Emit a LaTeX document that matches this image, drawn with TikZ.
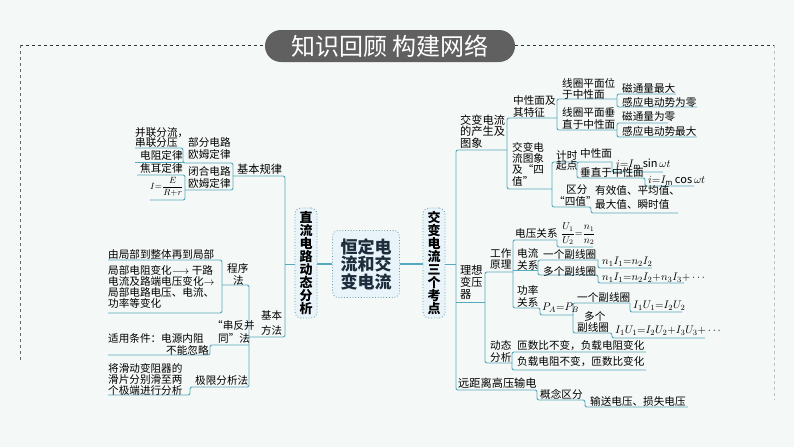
\documentclass[tikz,border=0pt]{standalone}
\usepackage{fontspec}
\usepackage{amsmath}
\setmainfont{Noto Sans CJK SC}
\usetikzlibrary{calc}
\definecolor{bg}{RGB}{244,248,246}
\definecolor{lc}{RGB}{86,170,192}
\definecolor{pill}{RGB}{96,96,96}
\definecolor{cbox}{RGB}{232,243,250}
\tikzset{
 ln/.style={draw=lc,line width=0.9pt,rounded corners=2pt},
 t/.style={anchor=west,inner sep=0pt,font=\fontsize{10.6}{11}\selectfont},
 tb/.style={anchor=west,inner sep=0pt,font=\fontsize{11.2}{12}\selectfont},
 tm/.style={anchor=west,inner sep=0pt,font=\fontsize{10.5}{11}\selectfont},
 fm/.style={anchor=west,inner sep=0pt,font=\fontsize{11}{11}\selectfont},
}
\begin{document}
\begin{tikzpicture}[x=1pt,y=-1pt]
\fill[bg] (0,0) rectangle (794,447);
\useasboundingbox (0,0) rectangle (794,447);
% frame
\draw[black!80,dashed,line width=0.7pt] (20,45)--(265,45) (515,45)--(774,45);
\draw[black!60,dashed,line width=0.7pt] (20,45)--(20,360);
\draw[black!25,dashed,line width=0.7pt] (774,45)--(774,400);
\node[fill=pill,rounded corners=16pt,minimum width=250pt,minimum height=32pt,text=white,font=\fontsize{24}{26}\selectfont,inner sep=0pt] (title) at (390,46) {知识回顾 构建网络};
% centre
\node[draw=lc!60!gray,dotted,line width=0.8pt,fill=cbox,rounded corners=6pt,minimum width=67pt,minimum height=67pt,align=center,inner sep=0pt,font=\fontsize{17}{17.5}\selectfont\bfseries,text={rgb,255:red,30;green,45;blue,60}] (c) at (366,264) {恒定电\\流和交\\变电流};
\node[draw=lc!60!gray,dotted,line width=0.8pt,fill=cbox,rounded corners=6pt,minimum width=22pt,minimum height=110pt,align=center,inner sep=0pt,font=\fontsize{13}{13}\selectfont\bfseries] (lv) at (306,263) {直\\流\\电\\路\\动\\态\\分\\析};
\node[draw=lc!60!gray,dotted,line width=0.8pt,fill=cbox,rounded corners=6pt,minimum width=22pt,minimum height=110pt,align=center,inner sep=0pt,font=\fontsize{13}{13}\selectfont\bfseries] (rv) at (434,263) {交\\变\\电\\流\\三\\个\\考\\点};
\draw[ln,line width=1.4pt] (c.west|-0,264)--(lv.east|-0,264);
\draw[ln,line width=1.4pt] (c.east|-0,264)--(rv.west|-0,264) ;
\draw[ln] (lv.west|-0,264)--(285,264);
\draw[ln] (rv.east|-0,264)--(456,264);
% ===== left
\draw[ln] (135,148)--(183,148)--(183,163)--(233,163)--(233,190)--(185,190);
\draw[ln] (135,162)--(183,162);
\draw[ln] (137,175)--(185,175)--(185,200)--(150,200);
\draw[ln] (233,176)--(285,176)--(285,337)--(249,337);
\node[t] (a1) at (135,133) {并联分流，};
\node[t] (a2) at (135,143) {串联分压};
\node[t] (a3) at (140,155) {电阻定律};
\node[t] (a4) at (140,168) {焦耳定律};
\node[t,font=\fontsize{9.5}{10}\selectfont] (a5) at (150,187) {$I{=}\dfrac{E}{R{+}r}$};
\node[t] (a6) at (188,142) {部分电路};
\node[t] (a7) at (188,154) {欧姆定律};
\node[t] (a8) at (188,171) {闭合电路};
\node[t] (a9) at (188,183) {欧姆定律};
\node[tb] (jbgl) at (237,169) {基本规律};
\node[tm] (jbff1) at (261,316) {基本};
\node[tm] (jbff2) at (261,330) {方法};
\draw[ln] (108,260)--(222,260)--(222,313)--(108,313);
\draw[ln] (222,285)--(249,285)--(249,387)--(190,387)--(190,395)--(108,395);
\draw[ln] (249,345)--(210,345)--(210,355)--(108,355);
\node[t] (b1) at (108,254) {由局部到整体再到局部};
\node[t] (b2) at (108,270) {局部电阻变化$\longrightarrow$ 干路};
\node[t] (b3) at (108,281) {电流及路端电压变化$\rightarrow$};
\node[t] (b4) at (108,292) {局部电路电压、电流、};
\node[t] (b5) at (108,303) {功率等变化};
\node[t] (b6) at (227,268) {程序};
\node[t] (b7) at (233,280) {法};
\node[t] (b8) at (108,338) {适用条件：电源内阻};
\node[t] (b9) at (166,350) {不能忽略};
\node[t] (b10) at (212,325) {“串反并};
\node[t] (b11) at (218,338) {同”法};
\node[t] (b12) at (108,368) {将滑动变阻器的};
\node[t] (b13) at (108,379) {滑片分别滑至两};
\node[t] (b14) at (108,390) {个极端进行分析};
\node[t] (b15) at (195,380) {极限分析法};
% ===== right
\draw[ln] (507,150)--(456,150)--(456,390)--(537,390)--(537,400)--(585,400)--(585,407)--(688,407);
\draw[ln] (456,302)--(485,302);
\draw[ln] (557,118)--(507,118)--(507,189)--(552,189);
\draw[ln] (617,99)--(557,99)--(557,130)--(617,130);
\draw[ln] (676,94)--(617,94)--(617,107)--(697,107);
\draw[ln] (668,123)--(617,123)--(617,137)--(697,137);
\node[tb] (c1) at (460,120) {交变电流};
\node[tb] (c2) at (460,131.5) {的产生及};
\node[tb] (c3) at (460,143) {图象};
\node[t] (c4) at (513,100) {中性面及};
\node[t] (c5) at (513,112) {其特征};
\node[t] (c6) at (562,83) {线圈平面位};
\node[t] (c7) at (562,94) {于中性面};
\node[t] (c8) at (622,88) {磁通量最大};
\node[t] (c9) at (622,102) {感应电动势为零};
\node[t] (c10) at (562,112) {线圈平面垂};
\node[t] (c11) at (562,124) {直于中性面};
\node[t] (c12) at (622,117) {磁通量为零};
\node[t] (c13) at (622,131) {感应电动势最大};
\node[t] (d1) at (512,147) {交变电};
\node[t] (d2) at (512,158) {流图象};
\node[t] (d3) at (512,169) {及“四};
\node[t] (d4) at (512,181) {值”};
\draw[ln] (577,162)--(552,162)--(552,207)--(591,207)--(591,213)--(678,213);
\draw[ln] (612,162)--(577,162)--(577,178)--(645,178)--(645,186)--(694,186);
\draw[ln] (612,162)--(612,172)--(663,172);
\node[t] (d5) at (556,155) {计时};
\node[t] (d6) at (556,166) {起点};
\node[t] (d7) at (580,153) {中性面};
\node[fm] (d8) at (616,164) {$i{=}I_{\mathrm m}\sin\omega t$};
\node[t] (d9) at (580,172) {垂直于中性面};
\node[fm] (d10) at (648,180.5) {$i{=}I_{\mathrm m}\cos\omega t$};
\node[t] (d11) at (566,190) {区分};
\node[t] (d12) at (554,201) {“四值”};
\node[t] (d13) at (595,190) {有效值、平均值、};
\node[t] (d14) at (595,204) {最大值、瞬时值};
% transformer
\node[tb] (e1) at (460,270) {理想};
\node[tb] (e2) at (460,282) {变压};
\node[tb] (e3) at (460,294) {器};
\draw[ln] (513,272)--(485,272)--(485,363)--(512,363);
\draw[ln] (557,240)--(513,240)--(513,308)--(540,308)--(540,315)--(573,315);
\draw[ln] (557,240)--(557,247)--(593,247);
\draw[ln] (513,270)--(538,270);
\draw[ln] (598,260)--(538,260)--(538,275)--(598,275)--(598,283)--(684,283);
\draw[ln] (598,260)--(598,268)--(652,268);
\draw[ln] (630,303)--(573,303)--(573,333)--(612,333)--(612,338)--(705,338);
\draw[ln] (630,303)--(630,312)--(682,312);
\draw[ln] (646,352)--(512,352)--(512,370)--(646,370);
\node[t] (f1) at (490,253) {工作};
\node[t] (f2) at (490,265) {原理};
\node[t] (f3) at (515,233) {电压关系};
\node[t,font=\fontsize{10}{10}\selectfont] (f4) at (561,234) {$\dfrac{U_1}{U_2}{=}\dfrac{n_1}{n_2}$};
\node[t] (f5) at (517,253) {电流};
\node[t] (f6) at (517,265) {关系};
\node[t] (f7) at (543,254) {一个副线圈};
\node[fm] (f8) at (602,262) {$n_1I_1{=}n_2I_2$};
\node[t] (f9) at (543,271) {多个副线圈};
\node[fm] (f10) at (602,278) {$n_1I_1{=}n_2I_2{+}n_3I_3{+}\cdots$};
\node[t] (f11) at (517,290) {功率};
\node[t] (f12) at (517,302) {关系};
\node[fm] (f13) at (542,308) {$P_A{=}P_B$};
\node[t] (f14) at (577,297) {一个副线圈};
\node[fm] (f15) at (633,306) {$I_1U_1{=}I_2U_2$};
\node[t] (f16) at (584,316) {多个};
\node[t] (f17) at (577,327) {副线圈};
\node[fm] (f18) at (615,331) {$I_1U_1{=}I_2U_2{+}I_3U_3{+}\cdots$};
\node[t] (g1) at (490,345) {动态};
\node[t] (g2) at (490,357) {分析};
\node[t] (g3) at (517,346) {匝数比不变，负载电阻变化};
\node[t] (g4) at (517,362) {负载电阻不变，匝数比变化};
\node[tb] (h1) at (458,383) {远距离高压输电};
\node[t] (h2) at (540,394) {概念区分};
\node[t] (h3) at (590,401) {输送电压、损失电压};
\end{tikzpicture}
\end{document}
